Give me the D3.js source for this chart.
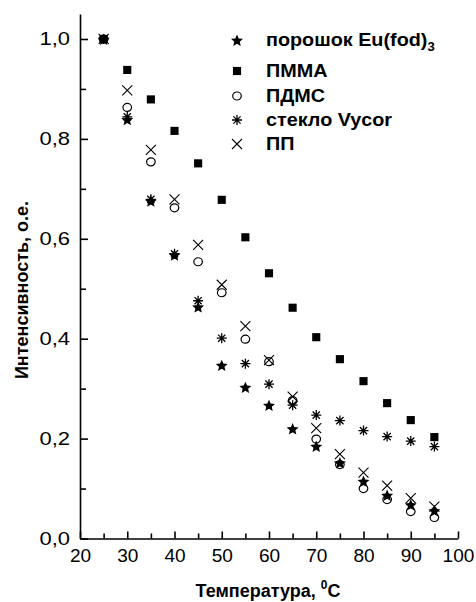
<!DOCTYPE html>
<html>
<head>
<meta charset="utf-8">
<script src="https://cdn.jsdelivr.net/npm/d3@7"></script>
<style>
  html, body { margin: 0; padding: 0; background: #fff; }
  svg { display: block; }
  text { font-family: "Liberation Sans", Arial, sans-serif; fill: #000; }
</style>
</head>
<body>
<svg id="chart" width="476" height="602"></svg>
<script>
// Temperature, °C
const temperatures = [25, 30, 35, 40, 45, 50, 55, 60, 65, 70, 75, 80, 85, 90, 95];

// Normalised luminescence intensity, a.u.
const powderEu  = [1.000, 0.839, 0.676, 0.568, 0.464, 0.347, 0.303, 0.267, 0.220, 0.185, 0.152, 0.115, 0.087, 0.068, 0.056];
const pmma      = [1.000, 0.938, 0.879, 0.816, 0.751, 0.678, 0.603, 0.531, 0.462, 0.403, 0.359, 0.315, 0.271, 0.237, 0.203];
const pdms      = [1.000, 0.863, 0.754, 0.662, 0.554, 0.492, 0.399, 0.354, 0.276, 0.199, 0.148, 0.100, 0.078, 0.054, 0.042];
const vycor     = [1.000, 0.844, 0.679, 0.570, 0.476, 0.401, 0.350, 0.309, 0.267, 0.247, 0.236, 0.216, 0.204, 0.195, 0.184];
const pp        = [1.000, 0.897, 0.778, 0.679, 0.588, 0.508, 0.425, 0.357, 0.284, 0.221, 0.169, 0.132, 0.106, 0.081, 0.064];

const seriesNames = ["порошок Eu(fod)", "ПММА", "ПДМС", "стекло Vycor", "ПП"];
const seriesMarkers = ["star", "square", "circle", "asterisk", "cross"];
const seriesValues = [powderEu, pmma, pdms, vycor, pp];

const xTicks = [20, 30, 40, 50, 60, 70, 80, 90, 100];
const xMinorTicks = [25, 35, 45, 55, 65, 75, 85, 95];
const yTicks = [0, 0.2, 0.4, 0.6, 0.8, 1.0];
const yMinorTicks = [0.1, 0.3, 0.5, 0.7, 0.9];

const svg = d3.select("#chart");

const x = d3.scaleLinear().domain([20, 100]).range([80, 458]);
const y = d3.scaleLinear().domain([0, 1.05]).range([538.5, 14]);

const fmtY = v => d3.format(".1f")(v).replace(".", ",");

// Widen a text element horizontally about a fixed anchor x
function widen(sel, ax, s) {
  sel.attr("transform", `translate(${ax},0) scale(${s},1) translate(${-ax},0)`);
}

// Axes with inward ticks
const yAxis = svg.append("g").attr("transform", `translate(${x(20)},0)`)
  .call(d3.axisLeft(y).tickValues(yTicks).tickFormat(fmtY)
    .tickSizeInner(-8).tickSizeOuter(0).tickPadding(10));
svg.append("g").attr("transform", `translate(${x(20)},0)`)
  .call(d3.axisLeft(y).tickValues(yMinorTicks).tickFormat("")
    .tickSizeInner(-6).tickSizeOuter(0))
  .select(".domain").remove();

const xAxis = svg.append("g").attr("transform", `translate(0,${y(0)})`)
  .call(d3.axisBottom(x).tickValues(xTicks).tickFormat(d3.format("d"))
    .tickSizeInner(-7).tickSizeOuter(0).tickPadding(11));
svg.append("g").attr("transform", `translate(0,${y(0)})`)
  .call(d3.axisBottom(x).tickValues(xMinorTicks).tickFormat("")
    .tickSizeInner(-5).tickSizeOuter(0))
  .select(".domain").remove();

svg.selectAll(".domain, .tick line").attr("stroke", "#000").attr("stroke-width", 1.6);
svg.selectAll(".tick text").attr("font-size", 18)
  .attr("font-family", "'Liberation Sans', Arial, sans-serif").attr("fill", "#000");
yAxis.selectAll(".tick text").each(function () { widen(d3.select(this), -10, 1.22); });
xAxis.selectAll(".tick text").each(function () { widen(d3.select(this), 0, 1.06); });

// Marker drawing
function starD(R, r) {
  let d = "";
  for (let k = 0; k < 10; k++) {
    const a = -Math.PI / 2 + k * Math.PI / 5;
    const rad = k % 2 === 0 ? R : r;
    d += (k === 0 ? "M" : "L") + (rad * Math.cos(a)).toFixed(2) + "," + (rad * Math.sin(a)).toFixed(2);
  }
  return d + "Z";
}
const starPath = starD(6.3, 2.9);
const squarePath = d3.symbol().type(d3.symbolSquare).size(66)();

function drawMarker(g, kind) {
  if (kind === "star") {
    g.append("path").attr("d", starPath).attr("fill", "#000").attr("transform", "translate(0,0.8)");
  } else if (kind === "square") {
    g.append("path").attr("d", squarePath).attr("fill", "#000");
  } else if (kind === "circle") {
    g.append("ellipse").attr("rx", 4.3).attr("ry", 4).attr("fill", "none").attr("stroke", "#000").attr("stroke-width", 1.2);
  } else if (kind === "asterisk") {
    const r = 5, d = r * 0.72;
    g.append("path")
      .attr("d", `M0,${-r}V${r}M${-r},0H${r}M${-d},${-d}L${d},${d}M${-d},${d}L${d},${-d}`)
      .attr("stroke", "#000").attr("stroke-width", 1.3).attr("fill", "none");
  } else if (kind === "cross") {
    const r = 5;
    g.append("path")
      .attr("d", `M${-r},${-r}L${r},${r}M${-r},${r}L${r},${-r}`)
      .attr("stroke", "#000").attr("stroke-width", 1.1).attr("fill", "none");
  }
}

// Data points
seriesValues.forEach((vals, i) => {
  const grp = svg.append("g").attr("class", "series");
  temperatures.forEach((t, j) => {
    const m = grp.append("g").attr("transform", `translate(${x(t)},${y(vals[j])})`);
    drawMarker(m, seriesMarkers[i]);
  });
});

// Legend
const legendRows = [40, 71, 96, 120, 144];
seriesNames.forEach((name, i) => {
  const m = svg.append("g").attr("transform", `translate(237,${legendRows[i]})`);
  drawMarker(m, seriesMarkers[i]);
  const t = svg.append("text").attr("x", 266).attr("y", legendRows[i] + 6.5)
    .attr("font-size", 18).attr("font-weight", "bold").text(name);
  if (i === 0) {
    t.append("tspan").attr("font-size", 12).attr("dy", 5).text("3");
  }
  widen(t, 266, 1.1);
});

// Axis titles
const xTitle = svg.append("text").attr("x", 268).attr("y", 597)
  .attr("text-anchor", "middle").attr("font-size", 18).attr("font-weight", "bold");
xTitle.append("tspan").text("Температура, ");
xTitle.append("tspan").attr("font-size", 12).attr("dy", -8).text("0");
xTitle.append("tspan").attr("dy", 8).text("C");

svg.append("text")
  .attr("transform", "translate(28,290) rotate(-90)")
  .attr("text-anchor", "middle").attr("font-size", 18).attr("font-weight", "bold")
  .text("Интенсивность, о.е.");
</script>
</body>
</html>
